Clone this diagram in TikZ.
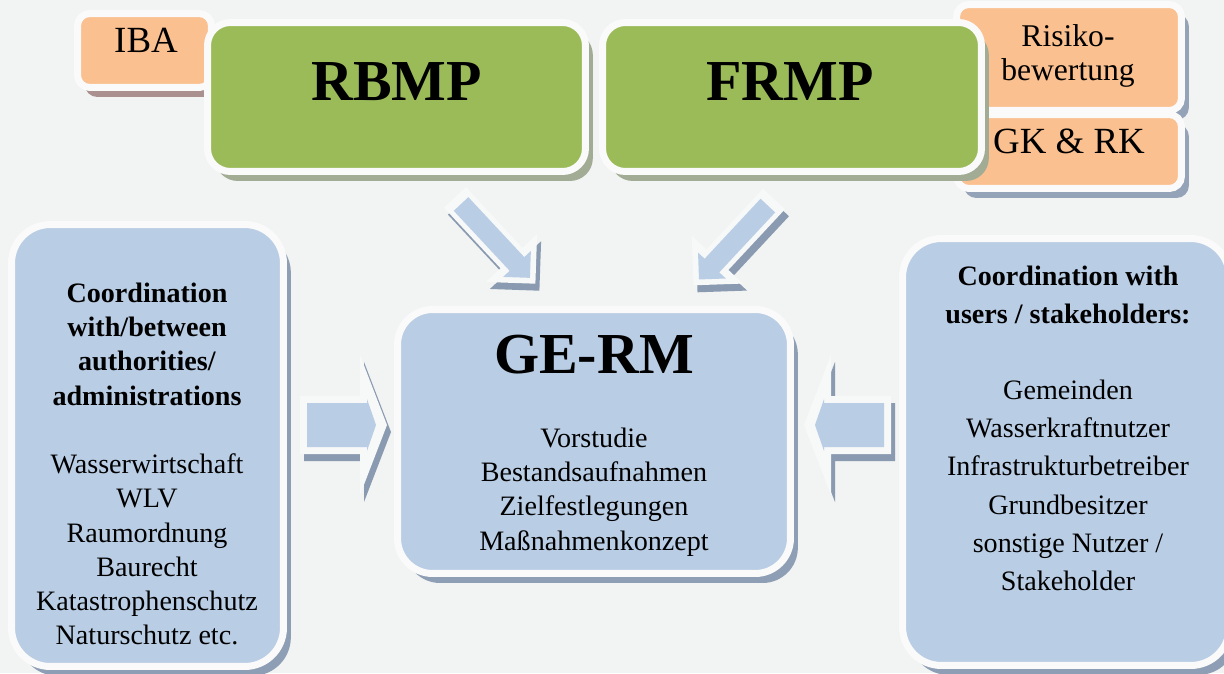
\documentclass[tikz,border=0pt]{standalone}
\usepackage{fontspec}
\setmainfont{Liberation Serif}
\usepackage{tikz}
\usetikzlibrary{shadows}
\definecolor{bggrey}{HTML}{F2F3F3}
\definecolor{glow}{HTML}{FAFAFA}
\definecolor{arrowglow}{HTML}{F7F8F8}
\definecolor{plangreen}{HTML}{9BBB59}
\definecolor{greenshade}{HTML}{A2AB94}
\definecolor{peach}{HTML}{FAC090}
\definecolor{ibashade}{HTML}{AB9090}
\definecolor{peachshade}{HTML}{95A3B8}
\definecolor{paleblue}{HTML}{B9CDE5}
\definecolor{blueshade}{HTML}{8E9EB5}
\definecolor{arrowshade}{HTML}{8A9AB0}
% block arrow outline: start x, tip x, half shaft, half head, head length
\newcommand{\arrowpath}[5]{(#1,-#3) -- (#2-#5,-#3) -- (#2-#5,-#4) -- (#2,0) -- (#2-#5,#4) -- (#2-#5,#3) -- (#1,#3) -- cycle}
\newcommand{\sidearrow}[2]{%
  \begin{scope}[shift={#1}, shift={(4,7)}, rotate=#2]
    \fill[arrowshade] \arrowpath{0}{87}{29}{70}{27};
  \end{scope}
  \begin{scope}[shift={#1}, rotate=#2]
    \fill[arrowglow] \arrowpath{0}{87}{29}{70}{27};
    \fill[paleblue] \arrowpath{7}{76}{22}{26}{9};
  \end{scope}}
\newcommand{\diagarrow}[2]{%
  \begin{scope}[shift={#1}, shift={(4,7)}, rotate=#2]
    \fill[arrowshade] \arrowpath{0}{118}{15}{35}{35};
  \end{scope}
  \begin{scope}[shift={#1}, rotate=#2]
    \fill[arrowglow] \arrowpath{0}{118}{15}{35}{35};
    \fill[paleblue] \arrowpath{9}{110}{10}{19}{19};
  \end{scope}}
\tikzset{
  boxshade/.style={drop shadow={shadow xshift=4.2pt, shadow yshift=-5.4pt, opacity=1, fill=#1}},
  panel/.style={draw=glow, line width=0.14cm, inner sep=0pt},
  greenbox/.style={panel, fill=plangreen, rounded corners=13pt, boxshade=greenshade},
  orangebox/.style={panel, fill=peach, rounded corners=7pt},
  bluebox/.style={panel, fill=paleblue, rounded corners=22pt, boxshade=blueshade},
  bigtitle/.style={font=\fontsize{33}{38}\selectfont\bfseries, anchor=base, inner sep=0pt},
  bodytext/.style={font=\fontsize{16}{19.5}\selectfont, align=center, anchor=north, inner sep=0pt}
}
\begin{document}
\begin{tikzpicture}[x=0.02cm, y=-0.02cm]
  \useasboundingbox (0,0) rectangle (1224,673);
  \fill[bggrey] (0,0) rectangle (1224,673);

  % orange side boxes, behind the plans
  \node[orangebox, boxshade=ibashade, minimum width=2.68cm, minimum height=1.48cm]
    (iba) at (144.5,50.5) {};
  \node[orangebox, boxshade=peachshade, minimum width=4.5cm, minimum height=2.12cm]
    (risk) at (1069,57.5) {};
  \node[orangebox, boxshade=peachshade, minimum width=4.5cm, minimum height=1.48cm]
    (gkrk) at (1069,151.5) {};

  % the two plans
  \node[greenbox, minimum width=7.56cm, minimum height=2.98cm] (rbmp) at (396.5,97) {};
  \node[greenbox, minimum width=7.58cm, minimum height=2.98cm] (frmp) at (792,97) {};

  % coordination panels and GE-RM
  \node[bluebox, minimum width=5.44cm, minimum height=8.84cm] (authbox) at (147.5,445.5) {};
  \node[bluebox, rounded corners=20pt, minimum width=7.86cm, minimum height=5.28cm]
    (germ) at (594,441.5) {};
  \node[bluebox, minimum width=6.54cm, minimum height=8.54cm] (userbox) at (1066,452) {};

  % block arrows into GE-RM
  \diagarrow{(454.9,197.4)}{-47}
  \diagarrow{(774,199)}{-133}
  \sidearrow{(300,425)}{0}
  \sidearrow{(891,425)}{180}

  % labels
  \node[font=\fontsize{21}{25}\selectfont, anchor=base, inner sep=0pt] (ibalabel)
    at (146,52) {IBA};
  \node[bigtitle] (rbmplabel) at (396.5,100) {RBMP};
  \node[bigtitle] (frmplabel) at (790,100) {FRMP};
  \node[font=\fontsize{18}{19.3}\selectfont, align=center, anchor=north, inner sep=0pt]
    (risklabel) at (1068,24) {Risiko-\\bewertung};
  \node[font=\fontsize{21}{25}\selectfont, anchor=base, inner sep=0pt] (gkrklabel)
    at (1069,153) {GK \& RK};
  \node[bigtitle] (germlabel) at (594,373) {GE-RM};
  \node[bodytext] (germsteps) at (594,427.5)
    {Vorstudie\\Bestandsaufnahmen\\Zielfestlegungen\\Maßnahmenkonzept};
  \node[bodytext] (authlabel) at (147,282.5)
    {\textbf{Coordination}\\\textbf{with/between}\\\textbf{authorities/}\\\textbf{administrations}\\[19.5pt]
     Wasserwirtschaft\\WLV\\Raumordnung\\Baurecht\\Katastrophenschutz\\Naturschutz etc.};
  \node[bodytext, font=\fontsize{16}{21.7}\selectfont] (userlabel) at (1068,265.5)
    {\textbf{Coordination with}\\\textbf{users / stakeholders:}\\[21.7pt]
     Gemeinden\\Wasserkraftnutzer\\Infrastrukturbetreiber\\Grundbesitzer\\sonstige Nutzer /\\Stakeholder};
\end{tikzpicture}
\end{document}
